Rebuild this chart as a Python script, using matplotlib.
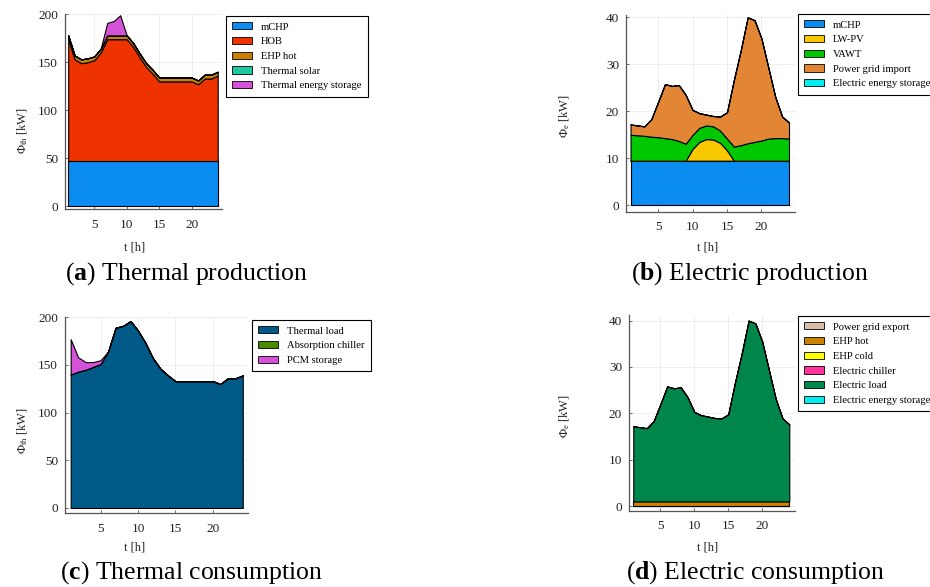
import numpy as np
import matplotlib
matplotlib.use("Agg")
import matplotlib.pyplot as plt
from matplotlib.patches import Patch

plt.rcParams['font.family'] = ['Liberation Serif', 'DejaVu Serif']
plt.rcParams['mathtext.fontset'] = 'custom'
plt.rcParams['mathtext.rm'] = 'Liberation Serif'
plt.rcParams['mathtext.it'] = 'Liberation Serif:italic'
plt.rcParams['mathtext.bf'] = 'Liberation Serif:bold'

# ---------------- data ----------------
hours = list(range(1, 25))

# (a) Thermal production [kW]
th_mchp = [47] * 24
th_hob = [127, 106, 102, 103, 105, 113, 127, 127, 127, 127, 119, 108,
          98, 91, 83, 83, 83, 83, 83, 83, 80, 86, 86, 89]
th_ehp_hot = [4] * 24
th_solar = [0] * 24
th_storage = [0, 0, 0, 0, 0, 0, 13, 15, 21, 0, 0, 0,
              0, 0, 0, 0, 0, 0, 0, 0, 0, 0, 0, 0]

# (b) Electric production [kW]
el_mchp = [9.5] * 24
el_pv = [0, 0, 0, 0, 0, 0, 0, 0, 0, 2.5, 4.0, 4.6,
         4.5, 3.8, 2.2, 0, 0, 0, 0, 0, 0, 0, 0, 0]
el_vawt = [5.5, 5.4, 5.3, 5.1, 5.0, 4.8, 4.6, 4.2, 3.6, 3.0, 3.0, 2.9,
           2.8, 2.6, 2.5, 3.0, 3.3, 3.7, 4.0, 4.3, 4.7, 4.8, 4.8, 4.7]
el_grid_import = [2.2, 2.1, 2.0, 3.7, 7.5, 11.5, 11.3, 11.9, 10.4, 5.3, 3.1, 2.3,
                  2.2, 3.0, 5.6, 14.2, 20.2, 26.8, 25.9, 21.7, 15.1, 8.8, 4.6, 3.4]
el_storage = [0] * 24

# (c) Thermal consumption [kW]
th_load = [140, 143, 145, 148, 151, 164, 189, 191, 196, 186, 173, 157,
           146, 139, 133, 133, 133, 133, 133, 133, 130, 136, 136, 139]
th_abs_chiller = [0] * 24
th_pcm = [37, 15, 8, 5, 4, 0, 0, 0, 0, 0, 0, 0,
          0, 0, 0, 0, 0, 0, 0, 0, 0, 0, 0, 0]

# (d) Electric consumption [kW]
el_export = [0] * 24
el_ehp_hot = [1.0] * 24
el_ehp_cold = [0] * 24
el_chiller = [0] * 24
el_load = [16.2, 16.0, 15.8, 17.3, 21.0, 24.8, 24.4, 24.6, 22.5, 19.3, 18.6, 18.3,
           18.0, 17.9, 18.8, 25.7, 32.0, 39.0, 38.4, 34.5, 28.3, 22.1, 17.9, 16.6]
el_cons_storage = [0] * 24

xticks = [5, 10, 15, 20]
yticks_th = [0, 50, 100, 150, 200]
yticks_el = [0, 10, 20, 30, 40]

# ---------------- colours ----------------
C_MCHP = '#0a8cf0'
C_HOB = '#ee3300'
C_EHPHOT = '#c88200'
C_SOLAR = '#1ec8a0'
C_TES = '#d452d8'
C_PV = '#f8c800'
C_VAWT = '#00c800'
C_GRID = '#e28535'
C_EES = '#00eef0'
C_TLOAD = '#005a87'
C_ABS = '#4a8a00'
C_EXPORT = '#d8bfaa'
C_EHPCOLD = '#ffff00'
C_ECHILL = '#ff3399'
C_ELOAD = '#00864b'

W, H = 930, 587
fig = plt.figure(figsize=(W / 100, H / 100), dpi=100)


def ax_at(left, top, right, bottom):
    return fig.add_axes([left / W, 1 - bottom / H, (right - left) / W, (bottom - top) / H])


def style(ax, xlim, ylim, yticks):
    ax.set_xlim(*xlim)
    ax.set_ylim(*ylim)
    ax.set_xticks(xticks)
    ax.set_yticks(yticks)
    ax.grid(True, color='#ebebeb', linewidth=0.6)
    ax.set_axisbelow(True)
    for s in ['top', 'right']:
        ax.spines[s].set_visible(False)
    for s in ['left', 'bottom']:
        ax.spines[s].set_color('#555555')
        ax.spines[s].set_linewidth(0.9)
    ax.tick_params(direction='in', length=2.5, width=0.6, color='#555555',
                   labelsize=9.5, labelcolor='#222222')
    ax.tick_params(axis='x', pad=7)
    ax.tick_params(axis='y', pad=5)


def stack(ax, series, colors):
    ax.stackplot(hours, *series, colors=colors, edgecolor='black', linewidth=0.8)


def legend(ax, labels, colors, x, y):
    handles = [Patch(facecolor=c, edgecolor='black', linewidth=0.6) for c in colors]
    leg = ax.legend(handles, labels, loc='upper left', bbox_to_anchor=(x / W, 1 - y / H),
                    bbox_transform=fig.transFigure, fontsize=7.6, frameon=True,
                    fancybox=False, edgecolor='black', framealpha=1,
                    handlelength=1.9, handleheight=0.65, handletextpad=0.8,
                    labelspacing=0.52, borderpad=0.6, borderaxespad=0)
    leg.get_frame().set_linewidth(0.8)


# (a)
ax_a = ax_at(65, 14, 222, 209.3)
stack(ax_a, [th_mchp, th_hob, th_ehp_hot, th_solar, th_storage],
      [C_MCHP, C_HOB, C_EHPHOT, C_SOLAR, C_TES])
style(ax_a, (0.51, 24.66), (-3.4, 200.3), yticks_th)
legend(ax_a, ['mCHP', 'HOB', 'EHP hot', 'Thermal solar', 'Thermal energy storage'],
       [C_MCHP, C_HOB, C_EHPHOT, C_SOLAR, C_TES], 226, 16)

# (b)
ax_b = ax_at(626, 15, 795, 211.7)
stack(ax_b, [el_mchp, el_pv, el_vawt, el_grid_import, el_storage],
      [C_MCHP, C_PV, C_VAWT, C_GRID, C_EES])
style(ax_b, (0.34, 24.87), (-1.36, 40.5), yticks_el)
legend(ax_b, ['mCHP', 'LW-PV', 'VAWT', 'Power grid import', 'Electric energy storage'],
       [C_MCHP, C_PV, C_VAWT, C_GRID, C_EES], 798, 14)

# (c)
ax_c = ax_at(65, 316.7, 248, 513.3)
stack(ax_c, [th_load, th_abs_chiller, th_pcm], [C_TLOAD, C_ABS, C_TES])
style(ax_c, (0.24, 24.7), (-5.6, 200.6), yticks_th)
legend(ax_c, ['Thermal load', 'Absorption chiller', 'PCM storage'],
       [C_TLOAD, C_ABS, C_TES], 252, 320)

# (d)
ax_d = ax_at(629, 315, 795, 510.7)
stack(ax_d, [el_export, el_ehp_hot, el_ehp_cold, el_chiller, el_load, el_cons_storage],
      [C_EXPORT, C_EHPHOT, C_EHPCOLD, C_ECHILL, C_ELOAD, C_EES])
style(ax_d, (0.37, 24.84), (-1.0, 41.2), yticks_el)
legend(ax_d, ['Power grid export', 'EHP hot', 'EHP cold', 'Electric chiller',
              'Electric load', 'Electric energy storage'],
       [C_EXPORT, C_EHPHOT, C_EHPCOLD, C_ECHILL, C_ELOAD, C_EES], 798, 316)

# axis labels
lab_kw = dict(fontsize=9, color='#222222', ha='center', va='center')
for (xl, yl), (yx, yy), txt in [((135, 247), (23, 131), r'$\Phi_{\mathrm{th}}$ [kW]'),
                                ((708, 247), (565, 116), r'$\Phi_{\mathrm{e}}$ [kW]'),
                                ((135, 547), (23, 431), r'$\Phi_{\mathrm{th}}$ [kW]'),
                                ((708, 547), (565, 416), r'$\Phi_{\mathrm{e}}$ [kW]')]:
    fig.text(xl / W, 1 - yl / H, 't [h]', **lab_kw)
    fig.text(yx / W, 1 - yy / H, txt, rotation=90, **lab_kw)

# captions
cap_kw = dict(fontsize=18.5, color='black', ha='center', va='center')
fig.text(187 / W, 1 - 274 / H, r'($\mathbf{a}$) Thermal production', **cap_kw)
fig.text(750 / W, 1 - 274 / H, r'($\mathbf{b}$) Electric production', **cap_kw)
fig.text(192 / W, 1 - 573 / H, r'($\mathbf{c}$) Thermal consumption', **cap_kw)
fig.text(755 / W, 1 - 573 / H, r'($\mathbf{d}$) Electric consumption', **cap_kw)

fig.savefig('out.png', dpi=100)
